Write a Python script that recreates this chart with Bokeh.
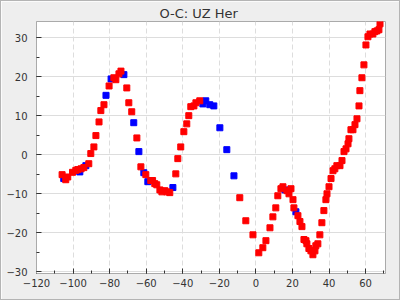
from bokeh.plotting import figure
from bokeh.models import SingleIntervalTicker, Range1d
from bokeh.embed import file_html
from bokeh.resources import INLINE

# Series (cycle number vs O-C)
red_x = [-106.0, -104.0, -102.9, -100.3, -98.5, -97.4, -95.6, -94.1, -91.4, -90.3,
         -88.6, -87.5, -85.8, -84.8, -83.1, -80.3, -77.7, -76.6, -74.9, -73.8,
         -70.6, -69.5, -67.9, -65.1, -62.9, -60.2, -57.5, -56.5, -55.3, -54.2,
         -52.5, -51.4, -49.8, -48.7, -47.1, -43.8, -42.7, -41.1, -39.4, -37.8,
         -36.7, -35.6, -33.9, -32.8, -30.7, -8.8, -5.5, -1.6, 1.6, 3.8,
         5.5, 7.7, 9.3, 10.9, 12.0, 13.7, 14.8, 17.0, 18.1, 19.2,
         20.3, 20.8, 23.0, 24.1, 25.2, 26.3, 27.4, 27.9, 29.0, 30.1,
         31.2, 32.3, 32.8, 33.9, 35.0, 36.1, 37.2, 38.3, 38.9, 40.0,
         41.1, 42.2, 43.2, 44.3, 46.0, 47.1, 48.2, 49.3, 50.4, 50.9,
         52.0, 53.1, 54.2, 55.3, 56.4, 56.9, 58.0, 59.1, 60.2, 61.3,
         62.4, 64.0, 65.1, 66.2, 67.3, 67.9]
red_y = [-5.1, -6.4, -5.7, -4.5, -4.0, -3.8, -3.6, -3.3, -2.3, 0.3,
         2.0, 4.9, 8.4, 11.3, 12.8, 17.6, 19.7, 19.2, 20.7, 21.4,
         17.1, 13.3, 11.0, 4.3, -3.1, -5.1, -6.6, -6.6, -7.4, -7.7,
         -9.0, -9.5, -9.2, -9.5, -9.7, -4.9, -1.0, 2.0, 5.9, 7.9,
         10.0, 12.3, 12.5, 13.3, 13.8, -11.0, -16.9, -20.5, -25.1, -23.8,
         -22.0, -18.7, -15.9, -13.6, -10.5, -8.7, -8.2, -9.2, -10.0, -8.7,
         -11.5, -13.6, -15.6, -17.1, -18.4, -21.7, -22.0, -22.8, -24.0, -24.6,
         -25.6, -24.6, -23.3, -22.8, -20.5, -17.4, -14.3, -11.5, -10.0, -8.2,
         -6.1, -4.1, -3.6, -2.8, -2.8, -1.5, 0.8, 1.5, 2.8, 4.1,
         6.4, 6.4, 7.7, 9.2, 12.5, 16.4, 19.7, 23.0, 28.1, 30.2,
         30.9, 30.9, 31.5, 31.7, 32.0, 33.5]

blue_x = [-105.1, -96.3, -93.0, -82.0, -79.2, -72.2, -66.8, -64.0, -61.3, -59.1,
          -45.4, -29.0, -27.4, -25.2, -23.0, -19.7, -15.9, -12.0, 15.9, 21.9]
blue_y = [-6.1, -4.4, -2.8, 15.2, 19.4, 20.5, 8.2, 0.8, -4.6, -6.9,
          -8.4, 13.0, 13.8, 12.8, 12.5, 6.9, 1.3, -5.4, -9.0, -14.6]

title_text = "O-C: UZ Her"

p = figure(width=400, height=300, output_backend="svg", toolbar_location=None,
           x_range=Range1d(-120, 70.9), y_range=Range1d(-30.4, 34.1),
           min_border_left=35, min_border_right=16, min_border_top=20, min_border_bottom=28)
p.styles = {"border": "1px solid #b4b4b4", "box-sizing": "border-box"}

p.background_fill_color = "white"
p.border_fill_color = "#eeeeee"
p.outline_line_color = "#aaaaaa"
p.outline_line_width = 1

p.title.text = title_text
p.title.text_font = "DejaVu Sans"
p.title.text_font_size = "13px"
p.title.text_font_style = "normal"
p.title.text_color = "#333333"
p.title.align = "left"
p.title.offset = 123
p.title.standoff = 2

p.xaxis.ticker = SingleIntervalTicker(interval=20, num_minor_ticks=2)
p.yaxis.ticker = SingleIntervalTicker(interval=10, num_minor_ticks=2)
for ax in (p.xaxis, p.yaxis):
    ax.major_tick_in = 5
    ax.major_tick_out = 0
    ax.minor_tick_in = 3
    ax.minor_tick_out = 0
    ax.major_tick_line_color = "#333333"
    ax.minor_tick_line_color = "#333333"
    ax.axis_line_color = "#aaaaaa"
    ax.major_label_text_font = "DejaVu Sans"
    ax.major_label_text_font_size = "10px"
    ax.major_label_text_color = "#333333"
p.xaxis.major_label_standoff = 5
p.yaxis.major_label_standoff = 9

p.xgrid.grid_line_color = "#dddddd"
p.xgrid.grid_line_dash = "5 3"
p.ygrid.grid_line_color = "#dddddd"

p.scatter(blue_x, blue_y, marker="square", size=6, fill_color="#0000ff", line_color="#0000ff")
p.scatter(red_x, red_y, marker="square", size=6, fill_color="#ff0000", line_color="#ff0000")

open("out.html", "w").write(file_html(p, INLINE))
